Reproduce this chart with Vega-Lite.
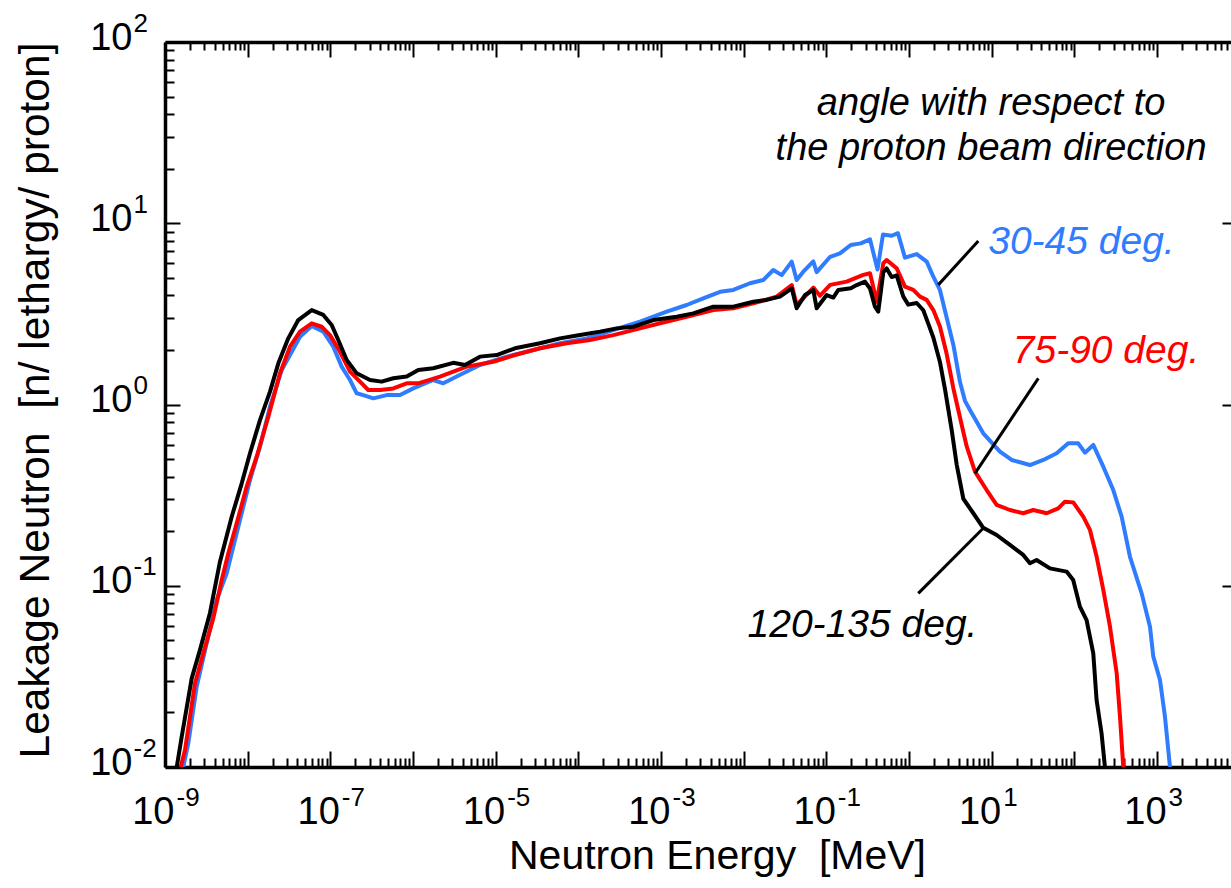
{
  "$schema": "https://vega.github.io/schema/vega-lite/v6.json",
  "width": 1066,
  "height": 725,
  "autosize": {"type": "none"},
  "padding": {"left": 165, "top": 42, "right": 0, "bottom": 121},
  "background": "white",
  "config": {
    "view": {"stroke": null},
    "font": "Liberation Sans",
    "axis": {
      "grid": false,
      "labelFont": "Liberation Sans",
      "titleFont": "Liberation Sans",
      "labelColor": "black",
      "titleColor": "black",
      "tickColor": "black",
      "domainColor": "black",
      "labelFlush": false,
      "labelOverlap": false,
      "titleFontWeight": "normal",
      "tickWidth": 2,
      "domainWidth": 3.5
    }
  },
  "datasets": {
    "spectra": [
      {"angle": "30-45 deg.", "energy": 1.663e-9, "flux": 0.01},
      {"angle": "30-45 deg.", "energy": 1.914e-9, "flux": 0.01352},
      {"angle": "30-45 deg.", "energy": 2.415e-9, "flux": 0.02773},
      {"angle": "30-45 deg.", "energy": 3.192e-9, "flux": 0.04808},
      {"angle": "30-45 deg.", "energy": 4.217e-9, "flux": 0.08337},
      {"angle": "30-45 deg.", "energy": 5.572e-9, "flux": 0.1172},
      {"angle": "30-45 deg.", "energy": 8.072e-9, "flux": 0.2307},
      {"angle": "30-45 deg.", "energy": 1.067e-8, "flux": 0.3828},
      {"angle": "30-45 deg.", "energy": 1.409e-8, "flux": 0.5848},
      {"angle": "30-45 deg.", "energy": 1.862e-8, "flux": 0.9727},
      {"angle": "30-45 deg.", "energy": 2.582e-8, "flux": 1.549},
      {"angle": "30-45 deg.", "energy": 4.295e-8, "flux": 2.366},
      {"angle": "30-45 deg.", "energy": 5.957e-8, "flux": 2.71},
      {"angle": "30-45 deg.", "energy": 8.222e-8, "flux": 2.523},
      {"angle": "30-45 deg.", "energy": 1.086e-7, "flux": 2.084},
      {"angle": "30-45 deg.", "energy": 1.371e-7, "flux": 1.618},
      {"angle": "30-45 deg.", "energy": 1.73e-7, "flux": 1.365},
      {"angle": "30-45 deg.", "energy": 2.084e-7, "flux": 1.153},
      {"angle": "30-45 deg.", "energy": 2.506e-7, "flux": 1.127},
      {"angle": "30-45 deg.", "energy": 3.311e-7, "flux": 1.081},
      {"angle": "30-45 deg.", "energy": 4.808e-7, "flux": 1.127},
      {"angle": "30-45 deg.", "energy": 6.966e-7, "flux": 1.127},
      {"angle": "30-45 deg.", "energy": 1.007e-6, "flux": 1.227},
      {"angle": "30-45 deg.", "energy": 1.758e-6, "flux": 1.365},
      {"angle": "30-45 deg.", "energy": 2.323e-6, "flux": 1.309},
      {"angle": "30-45 deg.", "energy": 3.373e-6, "flux": 1.426},
      {"angle": "30-45 deg.", "energy": 6.457e-6, "flux": 1.652},
      {"angle": "30-45 deg.", "energy": 1.358e-5, "flux": 1.837},
      {"angle": "30-45 deg.", "energy": 2.851e-5, "flux": 2.0},
      {"angle": "30-45 deg.", "energy": 5.998e-5, "flux": 2.178},
      {"angle": "30-45 deg.", "energy": 1.262e-4, "flux": 2.317},
      {"angle": "30-45 deg.", "energy": 2.649e-4, "flux": 2.576},
      {"angle": "30-45 deg.", "energy": 5.572e-4, "flux": 2.864},
      {"angle": "30-45 deg.", "energy": 1.172e-3, "flux": 3.251},
      {"angle": "30-45 deg.", "energy": 2.042e-3, "flux": 3.54},
      {"angle": "30-45 deg.", "energy": 3.243e-3, "flux": 3.855},
      {"angle": "30-45 deg.", "energy": 5.176e-3, "flux": 4.188},
      {"angle": "30-45 deg.", "energy": 7.482e-3, "flux": 4.285},
      {"angle": "30-45 deg.", "energy": 1.191e-2, "flux": 4.667},
      {"angle": "30-45 deg.", "energy": 1.726e-2, "flux": 4.864},
      {"angle": "30-45 deg.", "energy": 2.28e-2, "flux": 5.521},
      {"angle": "30-45 deg.", "energy": 2.884e-2, "flux": 5.176},
      {"angle": "30-45 deg.", "energy": 3.811e-2, "flux": 6.138},
      {"angle": "30-45 deg.", "energy": 4.375e-2, "flux": 4.864},
      {"angle": "30-45 deg.", "energy": 5.26e-2, "flux": 5.408},
      {"angle": "30-45 deg.", "energy": 6.95e-2, "flux": 6.166},
      {"angle": "30-45 deg.", "energy": 7.638e-2, "flux": 5.37},
      {"angle": "30-45 deg.", "energy": 0.1112, "flux": 6.531},
      {"angle": "30-45 deg.", "energy": 0.1462, "flux": 6.823},
      {"angle": "30-45 deg.", "energy": 0.1972, "flux": 7.586},
      {"angle": "30-45 deg.", "energy": 0.2606, "flux": 7.745},
      {"angle": "30-45 deg.", "energy": 0.3373, "flux": 8.147},
      {"angle": "30-45 deg.", "energy": 0.4159, "flux": 5.559},
      {"angle": "30-45 deg.", "energy": 0.4842, "flux": 8.67},
      {"angle": "30-45 deg.", "energy": 0.6166, "flux": 8.531},
      {"angle": "30-45 deg.", "energy": 0.7345, "flux": 8.81},
      {"angle": "30-45 deg.", "energy": 0.8933, "flux": 6.457},
      {"angle": "30-45 deg.", "energy": 1.239, "flux": 6.761},
      {"angle": "30-45 deg.", "energy": 1.637, "flux": 6.138},
      {"angle": "30-45 deg.", "energy": 1.968, "flux": 5.07},
      {"angle": "30-45 deg.", "energy": 2.366, "flux": 4.285},
      {"angle": "30-45 deg.", "energy": 2.851, "flux": 3.02},
      {"angle": "30-45 deg.", "energy": 3.436, "flux": 2.138},
      {"angle": "30-45 deg.", "energy": 4.13, "flux": 1.334},
      {"angle": "30-45 deg.", "energy": 4.753, "flux": 1.047},
      {"angle": "30-45 deg.", "energy": 5.458, "flux": 0.9333},
      {"angle": "30-45 deg.", "energy": 7.907, "flux": 0.6934},
      {"angle": "30-45 deg.", "energy": 12.59, "flux": 0.5495},
      {"angle": "30-45 deg.", "energy": 17.46, "flux": 0.4943},
      {"angle": "30-45 deg.", "energy": 29.04, "flux": 0.4634},
      {"angle": "30-45 deg.", "energy": 42.07, "flux": 0.4943},
      {"angle": "30-45 deg.", "energy": 61.09, "flux": 0.5383},
      {"angle": "30-45 deg.", "energy": 84.33, "flux": 0.6109},
      {"angle": "30-45 deg.", "energy": 111.4, "flux": 0.6109},
      {"angle": "30-45 deg.", "energy": 134.3, "flux": 0.542},
      {"angle": "30-45 deg.", "energy": 169.4, "flux": 0.5984},
      {"angle": "30-45 deg.", "energy": 223.9, "flux": 0.4539},
      {"angle": "30-45 deg.", "energy": 295.8, "flux": 0.3373},
      {"angle": "30-45 deg.", "energy": 373.3, "flux": 0.2404},
      {"angle": "30-45 deg.", "energy": 470.9, "flux": 0.1445},
      {"angle": "30-45 deg.", "energy": 651.6, "flux": 0.09078},
      {"angle": "30-45 deg.", "energy": 822.2, "flux": 0.05943},
      {"angle": "30-45 deg.", "energy": 901.6, "flux": 0.04064},
      {"angle": "30-45 deg.", "energy": 1086, "flux": 0.0302},
      {"angle": "30-45 deg.", "energy": 1247, "flux": 0.01897},
      {"angle": "30-45 deg.", "energy": 1435, "flux": 0.01},

      {"angle": "75-90 deg.", "energy": 1.549e-9, "flux": 0.01},
      {"angle": "75-90 deg.", "energy": 1.746e-9, "flux": 0.01242},
      {"angle": "75-90 deg.", "energy": 2.307e-9, "flux": 0.02897},
      {"angle": "75-90 deg.", "energy": 2.904e-9, "flux": 0.04236},
      {"angle": "75-90 deg.", "energy": 3.837e-9, "flux": 0.06607},
      {"angle": "75-90 deg.", "energy": 4.853e-9, "flux": 0.1076},
      {"angle": "75-90 deg.", "energy": 5.834e-9, "flux": 0.151},
      {"angle": "75-90 deg.", "energy": 7.362e-9, "flux": 0.2208},
      {"angle": "75-90 deg.", "energy": 9.727e-9, "flux": 0.3524},
      {"angle": "75-90 deg.", "energy": 1.285e-8, "flux": 0.5152},
      {"angle": "75-90 deg.", "energy": 1.778e-8, "flux": 0.857},
      {"angle": "75-90 deg.", "energy": 2.46e-8, "flux": 1.486},
      {"angle": "75-90 deg.", "energy": 3.251e-8, "flux": 2.084},
      {"angle": "75-90 deg.", "energy": 4.295e-8, "flux": 2.523},
      {"angle": "75-90 deg.", "energy": 5.957e-8, "flux": 2.805},
      {"angle": "75-90 deg.", "energy": 7.852e-8, "flux": 2.685},
      {"angle": "75-90 deg.", "energy": 9.908e-8, "flux": 2.415},
      {"angle": "75-90 deg.", "energy": 1.309e-7, "flux": 1.954},
      {"angle": "75-90 deg.", "energy": 1.73e-7, "flux": 1.517},
      {"angle": "75-90 deg.", "energy": 2.286e-7, "flux": 1.337},
      {"angle": "75-90 deg.", "energy": 2.877e-7, "flux": 1.202},
      {"angle": "75-90 deg.", "energy": 3.99e-7, "flux": 1.202},
      {"angle": "75-90 deg.", "energy": 5.781e-7, "flux": 1.227},
      {"angle": "75-90 deg.", "energy": 8.395e-7, "flux": 1.309},
      {"angle": "75-90 deg.", "energy": 1.159e-6, "flux": 1.309},
      {"angle": "75-90 deg.", "energy": 2.118e-6, "flux": 1.426},
      {"angle": "75-90 deg.", "energy": 4.457e-6, "flux": 1.618},
      {"angle": "75-90 deg.", "energy": 9.354e-6, "flux": 1.722},
      {"angle": "75-90 deg.", "energy": 1.714e-5, "flux": 1.875},
      {"angle": "75-90 deg.", "energy": 3.436e-5, "flux": 2.042},
      {"angle": "75-90 deg.", "energy": 7.228e-5, "flux": 2.178},
      {"angle": "75-90 deg.", "energy": 1.384e-4, "flux": 2.27},
      {"angle": "75-90 deg.", "energy": 2.649e-4, "flux": 2.415},
      {"angle": "75-90 deg.", "energy": 5.572e-4, "flux": 2.63},
      {"angle": "75-90 deg.", "energy": 9.727e-4, "flux": 2.805},
      {"angle": "75-90 deg.", "energy": 2.042e-3, "flux": 3.048},
      {"angle": "75-90 deg.", "energy": 4.295e-3, "flux": 3.319},
      {"angle": "75-90 deg.", "energy": 7.499e-3, "flux": 3.396},
      {"angle": "75-90 deg.", "energy": 1.309e-2, "flux": 3.614},
      {"angle": "75-90 deg.", "energy": 2.506e-2, "flux": 3.936},
      {"angle": "75-90 deg.", "energy": 3.811e-2, "flux": 4.56},
      {"angle": "75-90 deg.", "energy": 4.375e-2, "flux": 3.54},
      {"angle": "75-90 deg.", "energy": 6.966e-2, "flux": 4.416},
      {"angle": "75-90 deg.", "energy": 8.375e-2, "flux": 3.981},
      {"angle": "75-90 deg.", "energy": 0.1112, "flux": 4.571},
      {"angle": "75-90 deg.", "energy": 0.1762, "flux": 4.764},
      {"angle": "75-90 deg.", "energy": 0.2799, "flux": 5.188},
      {"angle": "75-90 deg.", "energy": 0.3373, "flux": 5.297},
      {"angle": "75-90 deg.", "energy": 0.4064, "flux": 3.69},
      {"angle": "75-90 deg.", "energy": 0.4887, "flux": 6.012},
      {"angle": "75-90 deg.", "energy": 0.537, "flux": 6.266},
      {"angle": "75-90 deg.", "energy": 0.7096, "flux": 5.636},
      {"angle": "75-90 deg.", "energy": 0.8933, "flux": 4.467},
      {"angle": "75-90 deg.", "energy": 1.127, "flux": 4.285},
      {"angle": "75-90 deg.", "energy": 1.358, "flux": 3.936},
      {"angle": "75-90 deg.", "energy": 1.633, "flux": 3.776},
      {"angle": "75-90 deg.", "energy": 1.968, "flux": 3.319},
      {"angle": "75-90 deg.", "energy": 2.366, "flux": 2.692},
      {"angle": "75-90 deg.", "energy": 2.851, "flux": 1.905},
      {"angle": "75-90 deg.", "energy": 3.436, "flux": 1.23},
      {"angle": "75-90 deg.", "energy": 4.13, "flux": 0.8511},
      {"angle": "75-90 deg.", "energy": 4.977, "flux": 0.5888},
      {"angle": "75-90 deg.", "energy": 6.281, "flux": 0.4266},
      {"angle": "75-90 deg.", "energy": 8.69, "flux": 0.3373},
      {"angle": "75-90 deg.", "energy": 11.48, "flux": 0.2793},
      {"angle": "75-90 deg.", "energy": 16.63, "flux": 0.2618},
      {"angle": "75-90 deg.", "energy": 24.1, "flux": 0.2512},
      {"angle": "75-90 deg.", "energy": 31.84, "flux": 0.2618},
      {"angle": "75-90 deg.", "energy": 46.24, "flux": 0.2512},
      {"angle": "75-90 deg.", "energy": 63.83, "flux": 0.2673},
      {"angle": "75-90 deg.", "energy": 76.91, "flux": 0.2911},
      {"angle": "75-90 deg.", "energy": 97.05, "flux": 0.2884},
      {"angle": "75-90 deg.", "energy": 128.2, "flux": 0.2404},
      {"angle": "75-90 deg.", "energy": 154.5, "flux": 0.2032},
      {"angle": "75-90 deg.", "energy": 186.2, "flux": 0.1445},
      {"angle": "75-90 deg.", "energy": 223.9, "flux": 0.09484},
      {"angle": "75-90 deg.", "energy": 269.8, "flux": 0.05943},
      {"angle": "75-90 deg.", "energy": 325.1, "flux": 0.03289},
      {"angle": "75-90 deg.", "energy": 356.5, "flux": 0.01897},
      {"angle": "75-90 deg.", "energy": 390.8, "flux": 0.01},

      {"angle": "120-135 deg.", "energy": 1.387e-9, "flux": 0.01},
      {"angle": "120-135 deg.", "energy": 1.592e-9, "flux": 0.01469},
      {"angle": "120-135 deg.", "energy": 2.104e-9, "flux": 0.03083},
      {"angle": "120-135 deg.", "energy": 2.649e-9, "flux": 0.04426},
      {"angle": "120-135 deg.", "energy": 3.499e-9, "flux": 0.07079},
      {"angle": "120-135 deg.", "energy": 4.624e-9, "flux": 0.1358},
      {"angle": "120-135 deg.", "energy": 6.412e-9, "flux": 0.2404},
      {"angle": "120-135 deg.", "energy": 8.472e-9, "flux": 0.3673},
      {"angle": "120-135 deg.", "energy": 1.067e-8, "flux": 0.5383},
      {"angle": "120-135 deg.", "energy": 1.409e-8, "flux": 0.8204},
      {"angle": "120-135 deg.", "energy": 1.862e-8, "flux": 1.178},
      {"angle": "120-135 deg.", "energy": 2.35e-8, "flux": 1.687},
      {"angle": "120-135 deg.", "energy": 3.097e-8, "flux": 2.317},
      {"angle": "120-135 deg.", "energy": 4.093e-8, "flux": 2.924},
      {"angle": "120-135 deg.", "energy": 5.957e-8, "flux": 3.319},
      {"angle": "120-135 deg.", "energy": 8.222e-8, "flux": 3.119},
      {"angle": "120-135 deg.", "energy": 1.038e-7, "flux": 2.748},
      {"angle": "120-135 deg.", "energy": 1.247e-7, "flux": 2.27},
      {"angle": "120-135 deg.", "energy": 1.578e-7, "flux": 1.762},
      {"angle": "120-135 deg.", "energy": 2.084e-7, "flux": 1.486},
      {"angle": "120-135 deg.", "energy": 3.02e-7, "flux": 1.365},
      {"angle": "120-135 deg.", "energy": 4.178e-7, "flux": 1.337},
      {"angle": "120-135 deg.", "energy": 5.781e-7, "flux": 1.396},
      {"angle": "120-135 deg.", "energy": 8.395e-7, "flux": 1.426},
      {"angle": "120-135 deg.", "energy": 1.159e-6, "flux": 1.549},
      {"angle": "120-135 deg.", "energy": 1.758e-6, "flux": 1.585},
      {"angle": "120-135 deg.", "energy": 3.076e-6, "flux": 1.698},
      {"angle": "120-135 deg.", "energy": 4.256e-6, "flux": 1.652},
      {"angle": "120-135 deg.", "energy": 6.457e-6, "flux": 1.837},
      {"angle": "120-135 deg.", "energy": 1.028e-5, "flux": 1.875},
      {"angle": "120-135 deg.", "energy": 1.714e-5, "flux": 2.042},
      {"angle": "120-135 deg.", "energy": 3.436e-5, "flux": 2.178},
      {"angle": "120-135 deg.", "energy": 5.998e-5, "flux": 2.317},
      {"angle": "120-135 deg.", "energy": 1.047e-4, "flux": 2.415},
      {"angle": "120-135 deg.", "energy": 1.828e-4, "flux": 2.523},
      {"angle": "120-135 deg.", "energy": 2.904e-4, "flux": 2.63},
      {"angle": "120-135 deg.", "energy": 4.624e-4, "flux": 2.685},
      {"angle": "120-135 deg.", "energy": 8.072e-4, "flux": 2.924},
      {"angle": "120-135 deg.", "energy": 1.545e-3, "flux": 3.048},
      {"angle": "120-135 deg.", "energy": 2.46e-3, "flux": 3.184},
      {"angle": "120-135 deg.", "energy": 4.295e-3, "flux": 3.467},
      {"angle": "120-135 deg.", "energy": 7.499e-3, "flux": 3.467},
      {"angle": "120-135 deg.", "energy": 1.309e-2, "flux": 3.69},
      {"angle": "120-135 deg.", "energy": 1.897e-2, "flux": 3.776},
      {"angle": "120-135 deg.", "energy": 2.748e-2, "flux": 3.936},
      {"angle": "120-135 deg.", "energy": 3.811e-2, "flux": 4.375},
      {"angle": "120-135 deg.", "energy": 4.375e-2, "flux": 3.396},
      {"angle": "120-135 deg.", "energy": 5.521e-2, "flux": 4.018},
      {"angle": "120-135 deg.", "energy": 6.95e-2, "flux": 4.285},
      {"angle": "120-135 deg.", "energy": 7.638e-2, "flux": 3.396},
      {"angle": "120-135 deg.", "energy": 0.1009, "flux": 4.018},
      {"angle": "120-135 deg.", "energy": 0.1213, "flux": 3.89},
      {"angle": "120-135 deg.", "energy": 0.1396, "flux": 4.285},
      {"angle": "120-135 deg.", "energy": 0.1972, "flux": 4.375},
      {"angle": "120-135 deg.", "energy": 0.2328, "flux": 4.56},
      {"angle": "120-135 deg.", "energy": 0.2931, "flux": 4.764},
      {"angle": "120-135 deg.", "energy": 0.3373, "flux": 4.365},
      {"angle": "120-135 deg.", "energy": 0.3873, "flux": 3.467},
      {"angle": "120-135 deg.", "energy": 0.4246, "flux": 3.251},
      {"angle": "120-135 deg.", "energy": 0.4887, "flux": 5.37},
      {"angle": "120-135 deg.", "energy": 0.537, "flux": 5.636},
      {"angle": "120-135 deg.", "energy": 0.6166, "flux": 5.047},
      {"angle": "120-135 deg.", "energy": 0.7096, "flux": 5.152},
      {"angle": "120-135 deg.", "energy": 0.8531, "flux": 3.936},
      {"angle": "120-135 deg.", "energy": 0.9795, "flux": 3.556},
      {"angle": "120-135 deg.", "energy": 1.239, "flux": 3.631},
      {"angle": "120-135 deg.", "energy": 1.489, "flux": 3.311},
      {"angle": "120-135 deg.", "energy": 1.714, "flux": 2.786},
      {"angle": "120-135 deg.", "energy": 1.968, "flux": 2.344},
      {"angle": "120-135 deg.", "energy": 2.366, "flux": 1.718},
      {"angle": "120-135 deg.", "energy": 2.723, "flux": 1.216},
      {"angle": "120-135 deg.", "energy": 3.281, "flux": 0.7244},
      {"angle": "120-135 deg.", "energy": 3.767, "flux": 0.4677},
      {"angle": "120-135 deg.", "energy": 4.539, "flux": 0.302},
      {"angle": "120-135 deg.", "energy": 5.998, "flux": 0.2512},
      {"angle": "120-135 deg.", "energy": 7.907, "flux": 0.2089},
      {"angle": "120-135 deg.", "energy": 11.48, "flux": 0.1905},
      {"angle": "120-135 deg.", "energy": 16.63, "flux": 0.1679},
      {"angle": "120-135 deg.", "energy": 24.1, "flux": 0.1479},
      {"angle": "120-135 deg.", "energy": 29.04, "flux": 0.133},
      {"angle": "120-135 deg.", "energy": 34.91, "flux": 0.1387},
      {"angle": "120-135 deg.", "energy": 50.7, "flux": 0.1247},
      {"angle": "120-135 deg.", "energy": 80.54, "flux": 0.1197},
      {"angle": "120-135 deg.", "energy": 96.83, "flux": 0.1076},
      {"angle": "120-135 deg.", "energy": 116.7, "flux": 0.0767},
      {"angle": "120-135 deg.", "energy": 140.6, "flux": 0.0647},
      {"angle": "120-135 deg.", "energy": 169.4, "flux": 0.0424},
      {"angle": "120-135 deg.", "energy": 185.8, "flux": 0.0234},
      {"angle": "120-135 deg.", "energy": 213.3, "flux": 0.01535},
      {"angle": "120-135 deg.", "energy": 234.4, "flux": 0.01}
    ],
    "leaders": [
      {"angle": "30-45 deg.", "e1": 2.259, "f1": 4.571, "e2": 6.887, "f2": 7.98},
      {"angle": "75-90 deg.", "e1": 6.281, "f1": 0.4169, "e2": 36.64, "f2": 1.394},
      {"angle": "120-135 deg.", "e1": 7.907, "f1": 0.2075, "e2": 1.294, "f2": 0.0908}
    ],
    "header": [
      {"line": "angle with respect to", "energy": 9.83, "flux": 39.5},
      {"line": "the proton beam direction", "energy": 9.83, "flux": 22.3}
    ],
    "tags": [
      {"angle": "30-45 deg.", "energy": 121.9, "flux": 6.76},
      {"angle": "75-90 deg.", "energy": 241.5, "flux": 1.687},
      {"angle": "120-135 deg.", "energy": 0.2735, "flux": 0.0521}
    ]
  },
  "layer": [
    {
      "data": {"name": "spectra"},
      "transform": [{"filter": "datum.angle === '30-45 deg.'"}],
      "mark": {"type": "line", "color": "#2f7cff", "strokeWidth": 4, "strokeJoin": "round", "clip": true},
      "encoding": {
        "x": {
          "field": "energy", "type": "quantitative",
          "scale": {"type": "log", "domain": [1e-9, 7850], "nice": false},
          "axis": {
            "orient": "bottom",
            "values": [1e-9, 1e-8, 1e-7, 1e-6, 1e-5, 1e-4, 1e-3, 1e-2, 1e-1, 1, 10, 100, 1000],
            "tickSize": -16,
            "labels": false,
            "title": "Neutron Energy\u00a0 [MeV]",
            "titleFontSize": 41,
            "titleX": 552,
            "titleY": 101,
            "titleAlign": "center",
            "titleBaseline": "alphabetic"
          }
        },
        "y": {
          "field": "flux", "type": "quantitative",
          "scale": {"type": "log", "domain": [0.01, 100], "nice": false},
          "axis": {
            "orient": "left",
            "values": [0.01, 0.1, 1, 10, 100],
            "tickSize": -15,
            "labels": false,
            "title": "Leakage Neutron\u00a0 [n/ lethargy/ proton]",
            "titleFontSize": 42.5,
            "titleAngle": -90,
            "titleX": -117,
            "titleY": 358,
            "titleAlign": "center",
            "titleBaseline": "alphabetic"
          }
        }
      }
    },
    {
      "data": {"name": "spectra"},
      "transform": [{"filter": "datum.angle === '75-90 deg.'"}],
      "mark": {"type": "line", "color": "#ff0000", "strokeWidth": 4, "strokeJoin": "round", "clip": true},
      "encoding": {
        "x": {
          "field": "energy", "type": "quantitative",
          "scale": {"type": "log", "domain": [1e-9, 7850], "nice": false},
          "axis": {
            "orient": "bottom",
            "values": [2e-9, 3e-9, 4e-9, 5e-9, 6e-9, 7e-9, 8e-9, 9e-9,
                       2e-8, 3e-8, 4e-8, 5e-8, 6e-8, 7e-8, 8e-8, 9e-8,
                       2e-7, 3e-7, 4e-7, 5e-7, 6e-7, 7e-7, 8e-7, 9e-7,
                       2e-6, 3e-6, 4e-6, 5e-6, 6e-6, 7e-6, 8e-6, 9e-6,
                       2e-5, 3e-5, 4e-5, 5e-5, 6e-5, 7e-5, 8e-5, 9e-5,
                       2e-4, 3e-4, 4e-4, 5e-4, 6e-4, 7e-4, 8e-4, 9e-4,
                       2e-3, 3e-3, 4e-3, 5e-3, 6e-3, 7e-3, 8e-3, 9e-3,
                       0.02, 0.03, 0.04, 0.05, 0.06, 0.07, 0.08, 0.09,
                       0.2, 0.3, 0.4, 0.5, 0.6, 0.7, 0.8, 0.9,
                       2, 3, 4, 5, 6, 7, 8, 9,
                       20, 30, 40, 50, 60, 70, 80, 90,
                       200, 300, 400, 500, 600, 700, 800, 900,
                       2000, 3000, 4000, 5000, 6000, 7000],
            "tickSize": -9,
            "domain": false,
            "labels": false,
            "title": null
          }
        },
        "y": {
          "field": "flux", "type": "quantitative",
          "scale": {"type": "log", "domain": [0.01, 100], "nice": false},
          "axis": {
            "orient": "left",
            "values": [0.02, 0.03, 0.04, 0.05, 0.06, 0.07, 0.08, 0.09,
                       0.2, 0.3, 0.4, 0.5, 0.6, 0.7, 0.8, 0.9,
                       2, 3, 4, 5, 6, 7, 8, 9,
                       20, 30, 40, 50, 60, 70, 80, 90],
            "tickSize": -9,
            "domain": false,
            "labels": false,
            "title": null
          }
        }
      }
    },
    {
      "data": {"name": "spectra"},
      "transform": [{"filter": "datum.angle === '120-135 deg.'"}],
      "mark": {"type": "line", "color": "#000000", "strokeWidth": 4, "strokeJoin": "round", "clip": true},
      "encoding": {
        "x": {
          "field": "energy", "type": "quantitative",
          "scale": {"type": "log", "domain": [1e-9, 7850], "nice": false},
          "axis": {
            "orient": "bottom",
            "values": [1e-9, 1e-7, 1e-5, 1e-3, 1e-1, 10, 1000],
            "ticks": false,
            "domain": false,
            "labelExpr": "'10'",
            "labelFontSize": 38,
            "labelAlign": "right",
            "labelBaseline": "alphabetic",
            "labelOffset": 9,
            "labelPadding": 56,
            "title": null
          }
        },
        "y": {
          "field": "flux", "type": "quantitative",
          "scale": {"type": "log", "domain": [0.01, 100], "nice": false},
          "axis": {
            "orient": "left",
            "values": [0.01, 0.1, 1, 10, 100],
            "ticks": false,
            "domain": false,
            "labelExpr": "'10'",
            "labelFontSize": 38,
            "labelAlign": "right",
            "labelBaseline": "alphabetic",
            "labelOffset": 7,
            "labelPadding": 33,
            "title": null
          }
        }
      }
    },
    {
      "data": {"name": "leaders"},
      "mark": {"type": "rule", "color": "black", "strokeWidth": 3},
      "encoding": {
        "x": {
          "field": "e1", "type": "quantitative",
          "scale": {"type": "log", "domain": [1e-9, 7850], "nice": false},
          "axis": {
            "orient": "bottom",
            "values": [1e-9, 1e-7, 1e-5, 1e-3, 1e-1, 10, 1000],
            "ticks": false,
            "domain": false,
            "labelExpr": "'' + round(log(datum.value) / LN10)",
            "labelFontSize": 26,
            "labelAlign": "left",
            "labelBaseline": "alphabetic",
            "labelOffset": 11,
            "labelPadding": 38,
            "title": null
          }
        },
        "x2": {"field": "e2"},
        "y": {
          "field": "f1", "type": "quantitative",
          "scale": {"type": "log", "domain": [0.01, 100], "nice": false},
          "axis": {
            "orient": "left",
            "values": [0.01, 0.1, 1, 10, 100],
            "ticks": false,
            "domain": false,
            "labelExpr": "'' + round(log(datum.value) / LN10)",
            "labelFontSize": 26,
            "labelAlign": "left",
            "labelBaseline": "alphabetic",
            "labelOffset": -11,
            "labelPadding": 32,
            "title": null
          }
        },
        "y2": {"field": "f2"}
      }
    },
    {
      "data": {"name": "header"},
      "mark": {"type": "text", "font": "Liberation Sans", "fontStyle": "italic", "fontSize": 38, "align": "center", "baseline": "alphabetic", "color": "black"},
      "encoding": {
        "x": {
          "field": "energy", "type": "quantitative",
          "scale": {"type": "log", "domain": [1e-9, 7850], "nice": false},
          "axis": {
            "orient": "top",
            "values": [1e-9, 1e-8, 1e-7, 1e-6, 1e-5, 1e-4, 1e-3, 1e-2, 1e-1, 1, 10, 100, 1000],
            "tickSize": -15,
            "labels": false,
            "title": null
          }
        },
        "y": {
          "field": "flux", "type": "quantitative",
          "scale": {"type": "log", "domain": [0.01, 100], "nice": false},
          "axis": {
            "orient": "right",
            "values": [0.01, 0.1, 1, 10, 100],
            "tickSize": -9,
            "domain": false,
            "labels": false,
            "title": null
          }
        },
        "text": {"field": "line"}
      }
    },
    {
      "data": {"name": "tags"},
      "mark": {"type": "text", "font": "Liberation Sans", "fontStyle": "italic", "fontSize": 39, "align": "center", "baseline": "alphabetic"},
      "encoding": {
        "x": {
          "field": "energy", "type": "quantitative",
          "scale": {"type": "log", "domain": [1e-9, 7850], "nice": false},
          "axis": {
            "orient": "top",
            "values": [2e-9, 3e-9, 4e-9, 5e-9, 6e-9, 7e-9, 8e-9, 9e-9,
                       2e-8, 3e-8, 4e-8, 5e-8, 6e-8, 7e-8, 8e-8, 9e-8,
                       2e-7, 3e-7, 4e-7, 5e-7, 6e-7, 7e-7, 8e-7, 9e-7,
                       2e-6, 3e-6, 4e-6, 5e-6, 6e-6, 7e-6, 8e-6, 9e-6,
                       2e-5, 3e-5, 4e-5, 5e-5, 6e-5, 7e-5, 8e-5, 9e-5,
                       2e-4, 3e-4, 4e-4, 5e-4, 6e-4, 7e-4, 8e-4, 9e-4,
                       2e-3, 3e-3, 4e-3, 5e-3, 6e-3, 7e-3, 8e-3, 9e-3,
                       0.02, 0.03, 0.04, 0.05, 0.06, 0.07, 0.08, 0.09,
                       0.2, 0.3, 0.4, 0.5, 0.6, 0.7, 0.8, 0.9,
                       2, 3, 4, 5, 6, 7, 8, 9,
                       20, 30, 40, 50, 60, 70, 80, 90,
                       200, 300, 400, 500, 600, 700, 800, 900,
                       2000, 3000, 4000, 5000, 6000, 7000],
            "tickSize": -8,
            "domain": false,
            "labels": false,
            "title": null
          }
        },
        "y": {
          "field": "flux", "type": "quantitative",
          "scale": {"type": "log", "domain": [0.01, 100], "nice": false},
          "axis": null
        },
        "text": {"field": "angle"},
        "color": {
          "field": "angle", "type": "nominal",
          "scale": {"domain": ["30-45 deg.", "75-90 deg.", "120-135 deg."], "range": ["#2f7cff", "#ff0000", "#000000"]},
          "legend": null
        }
      }
    }
  ],
  "resolve": {"axis": {"x": "independent", "y": "independent"}}
}
